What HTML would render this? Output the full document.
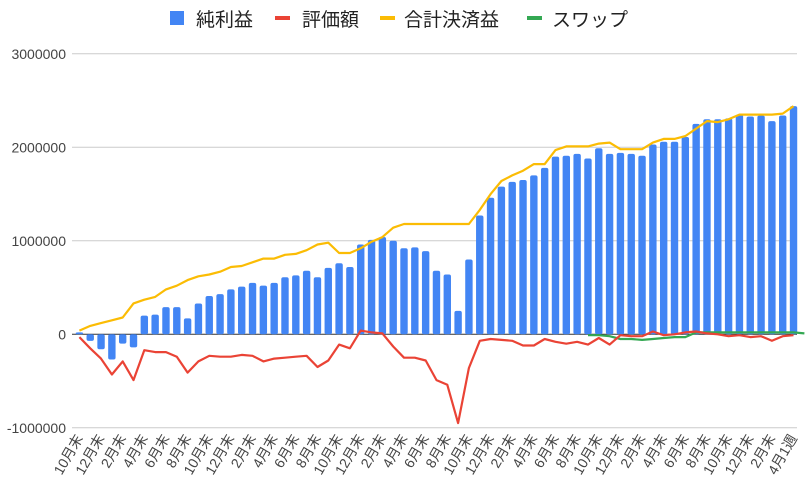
<!DOCTYPE html>
<html><head><meta charset="utf-8"><style>
html,body{margin:0;padding:0;background:#fff;}
svg text{font-family:"Liberation Sans","Noto Sans CJK JP",sans-serif;}
</style></head><body>
<svg id="chart" width="806" height="488" viewBox="0 0 806 488" xmlns="http://www.w3.org/2000/svg">
<g>
 <g><rect x="170" y="11" width="14" height="14" fill="#4285f4"/><text x="196" y="26" font-size="19" fill="#222">純利益</text></g>
 <g><rect x="275" y="16" width="15" height="4" fill="#ea4335"/><text x="302" y="26" font-size="19" fill="#222">評価額</text></g>
 <g><rect x="380" y="16" width="15" height="4" fill="#fbbc04"/><text x="404" y="26" font-size="19" fill="#222">合計決済益</text></g>
 <g><rect x="527" y="16" width="15" height="4" fill="#34a853"/><text x="552" y="26" font-size="19" fill="#222">スワップ</text></g>
</g>
<g id="grid"></g>
<g id="yaxis"></g>
<g id="bars"></g>
<g id="lines"></g>
<g id="xaxis"></g>
</svg>
<script>
const yTicks = [3000000, 2000000, 1000000, 0, -1000000];
const yTickLabels = ["3000000", "2000000", "1000000", "0", "-1000000"];
const netProfit = [0.02,-0.07,-0.16,-0.27,-0.10,-0.14,0.20,0.21,0.29,0.29,0.17,0.33,0.41,0.43,0.48,0.51,0.55,0.52,0.55,0.61,0.63,0.68,0.61,0.71,0.76,0.72,0.96,1.01,1.04,1.00,0.92,0.93,0.89,0.68,0.64,0.25,0.80,1.27,1.46,1.58,1.63,1.65,1.70,1.78,1.90,1.91,1.93,1.88,1.99,1.93,1.94,1.93,1.91,2.03,2.06,2.06,2.11,2.25,2.30,2.30,2.31,2.35,2.33,2.34,2.28,2.34,2.44];
const valuation = [-0.03,-0.15,-0.26,-0.43,-0.29,-0.49,-0.17,-0.19,-0.19,-0.24,-0.41,-0.29,-0.23,-0.24,-0.24,-0.22,-0.23,-0.29,-0.26,-0.25,-0.24,-0.23,-0.35,-0.28,-0.11,-0.15,0.04,0.02,0.01,-0.13,-0.25,-0.25,-0.28,-0.49,-0.54,-0.95,-0.36,-0.07,-0.05,-0.06,-0.07,-0.12,-0.12,-0.05,-0.08,-0.10,-0.08,-0.11,-0.04,-0.11,-0.01,-0.02,-0.02,0.03,-0.01,0.0,0.02,0.03,0.01,0,-0.02,-0.01,-0.03,-0.02,-0.07,-0.02,-0.01];
const totalSettled = [0.04,0.09,0.12,0.15,0.18,0.33,0.37,0.40,0.48,0.52,0.58,0.62,0.64,0.67,0.72,0.73,0.77,0.81,0.81,0.85,0.86,0.90,0.96,0.98,0.87,0.87,0.92,0.99,1.04,1.14,1.18,1.18,1.18,1.18,1.18,1.18,1.18,1.33,1.50,1.64,1.70,1.75,1.82,1.82,1.97,2.01,2.01,2.01,2.04,2.05,1.98,1.98,1.98,2.05,2.09,2.09,2.12,2.20,2.28,2.27,2.30,2.35,2.35,2.35,2.35,2.36,2.44];
const swap = [null,null,null,null,null,null,null,null,null,null,null,null,null,null,null,null,null,null,null,null,null,null,null,null,null,null,null,null,null,null,null,null,null,null,null,null,null,null,null,null,null,null,null,null,null,null,null,-0.01,-0.01,-0.02,-0.05,-0.05,-0.06,-0.05,-0.04,-0.03,-0.03,0.02,0.02,0.02,0.02,0.02,0.02,0.02,0.02,0.02,0.02,0.01];
const xLabels = ["10月末","12月末","2月末","4月末","6月末","8月末","10月末","12月末","2月末","4月末","6月末","8月末","10月末","12月末","2月末","4月末","6月末","8月末","10月末","12月末","2月末","4月末","6月末","8月末","10月末","12月末","2月末","4月末","6月末","8月末","10月末","12月末","2月末","4月1週"];

const NS="http://www.w3.org/2000/svg";
const X0=74, BAND=10.82, Y0=334.3, PPM=93.5;
const xPos=i=>X0+BAND*(i+0.5);
const yPos=v=>Y0-v/1000000*PPM;
const yM=v=>yPos(v*1000000);
function mk(tag,parent){const e=document.createElementNS(NS,tag);document.getElementById(parent).appendChild(e);return e;}

yTicks.forEach((t,i)=>{
  const l=mk('line','grid');
  
  
  l.setAttribute('x1',72);l.setAttribute('x2',797);
  l.setAttribute('y1',yPos(t));l.setAttribute('y2',yPos(t));
  l.setAttribute('stroke',t===0?'#333':'#ccc');l.setAttribute('stroke-width',1);
  const tx=mk('text','yaxis');
  
  
  tx.setAttribute('x',66);tx.setAttribute('y',yPos(t)+5);
  tx.setAttribute('text-anchor','end');tx.setAttribute('font-size','14');tx.setAttribute('fill','#444');
  tx.textContent=yTickLabels[i];
});

netProfit.forEach((v,i)=>{
  const r=mk('rect','bars');
  
  
  const y1=yM(v), h=Math.abs(y1-Y0);
  r.setAttribute('x',xPos(i)-3.7);r.setAttribute('width',7.4);
  r.setAttribute('y',Math.min(y1,Y0));r.setAttribute('height',Math.max(h,1));
  r.setAttribute('rx',2);r.setAttribute('fill','#4285f4');
});

function line(arr,color,name){
  let d='';let pen=false;
  arr.forEach((v,i)=>{ if(v===null){pen=false;return;} d+=(pen?'L':'M')+xPos(i).toFixed(1)+','+yM(v).toFixed(1); pen=true;});
  const p=mk('path','lines');
  
  
  p.setAttribute('d',d);p.setAttribute('fill','none');p.setAttribute('stroke',color);
  p.setAttribute('stroke-width',2.2);p.setAttribute('stroke-linejoin','round');
}
line(swap,'#34a853','line-swap');
line(valuation,'#ea4335','line-valuation');
line(totalSettled,'#fbbc04','line-total-settled');

xLabels.forEach((s,k)=>{
  const i=k*2, x=xPos(i)+4, y=438;
  const t=mk('text','xaxis');
  
  
  t.setAttribute('x',x);t.setAttribute('y',y);
  t.setAttribute('text-anchor','end');t.setAttribute('font-size','14');t.setAttribute('fill','#444');
  t.setAttribute('transform','rotate(-60 '+x+' '+y+')');
  t.textContent=s;
});
</script>
</body></html>
